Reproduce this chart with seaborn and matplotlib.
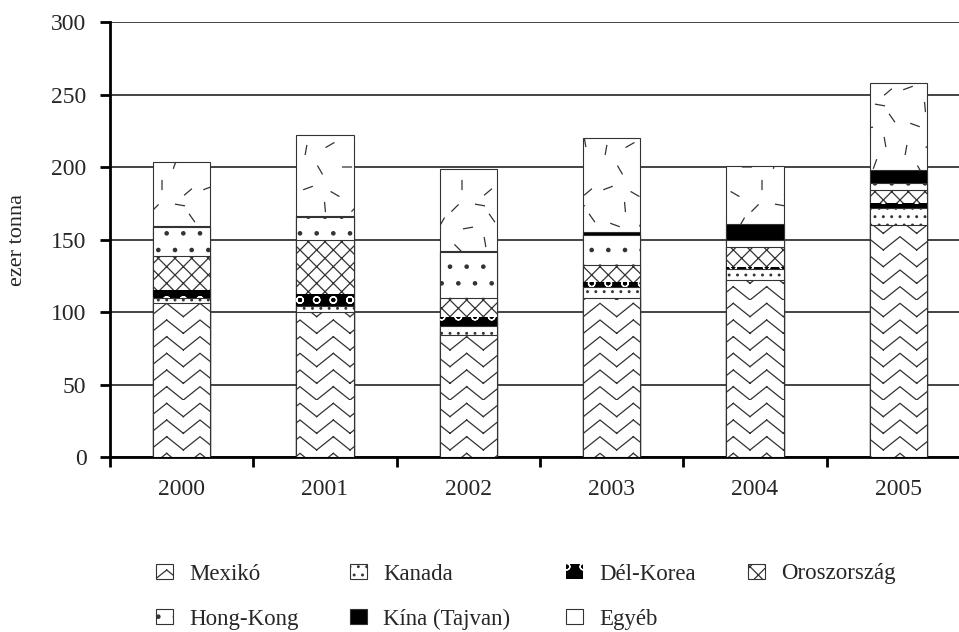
import warnings
import numpy as np
import seaborn as sns
import matplotlib.pyplot as plt
import matplotlib.hatch as mhatch
from matplotlib.path import Path
from matplotlib.patches import Patch

warnings.filterwarnings("ignore")

# --- data (ezer tonna) ---
years = ["2000", "2001", "2002", "2003", "2004", "2005"]
countries = ["Mexikó", "Kanada", "Dél-Korea", "Oroszország",
             "Hong-Kong", "Kína (Tajvan)", "Egyéb"]
mexiko = [106, 100, 84, 110, 122, 160]
kanada = [4, 4.5, 6.5, 7, 8, 12]
del_korea = [5, 8, 6, 4, 1, 3]
oroszorszag = [24, 37, 13.5, 11.5, 14, 9]
hong_kong = [20, 16, 31.5, 21, 5, 5]
kina = [0.5, 0.5, 0.5, 1.5, 10.8, 9]
egyeb = [44, 56, 57, 65, 40, 60]
series = [mexiko, kanada, del_korea, oroszorszag, hong_kong, kina, egyeb]


# --- two extra hatch textures: zigzag ('z') and scattered dashes ('r') ---
# (built from separate segments so the hatch renderer does not fill them)
class ZigzagHatch(mhatch.HatchPatternBase):
    def __init__(self, hatch, density):
        self.rows = 6 if "z" in hatch else 0
        self.steps = 6
        self.num_vertices = self.rows * self.steps * 2

    def set_vertices_and_codes(self, vertices, codes):
        amp = 0.8 / self.rows
        k = 0
        for r in range(self.rows):
            y0 = r / self.rows
            for s in range(self.steps):
                x1, x2 = s / self.steps, (s + 1) / self.steps
                y1 = y0 + (amp if s % 2 == 0 else 0.0)
                y2 = y0 + (0.0 if s % 2 == 0 else amp)
                vertices[k] = (x1, y1)
                vertices[k + 1] = (x2, y2)
                codes[k] = Path.MOVETO
                codes[k + 1] = Path.LINETO
                k += 2


DASH_MARKS = [(0.08, 0.12, 20), (0.35, 0.06, 150), (0.62, 0.15, 90),
              (0.88, 0.08, 40), (0.20, 0.30, 120), (0.47, 0.33, 0),
              (0.75, 0.36, 70), (0.06, 0.50, 80), (0.30, 0.55, 30),
              (0.58, 0.52, 135), (0.85, 0.58, 100), (0.15, 0.75, 160),
              (0.42, 0.78, 60), (0.68, 0.72, 10), (0.92, 0.82, 125),
              (0.25, 0.93, 95), (0.55, 0.92, 45), (0.80, 0.95, 170)]


class DashHatch(mhatch.HatchPatternBase):
    def __init__(self, hatch, density):
        self.on = "r" in hatch
        self.num_vertices = 2 * len(DASH_MARKS) if self.on else 0

    def set_vertices_and_codes(self, vertices, codes):
        half = 0.045
        for i, (cx, cy, ang) in enumerate(DASH_MARKS):
            dx, dy = half * np.cos(np.radians(ang)), half * np.sin(np.radians(ang))
            vertices[2 * i] = (cx - dx, cy - dy)
            vertices[2 * i + 1] = (cx + dx, cy + dy)
            codes[2 * i] = Path.MOVETO
            codes[2 * i + 1] = Path.LINETO


mhatch._hatch_types.extend([ZigzagHatch, DashHatch])

# face, edge, hatch, edge width for each country
styles = {
    "Mexikó": ("white", "#333333", "z", 0.8),
    "Kanada": ("white", "#333333", "..", 0.8),
    "Dél-Korea": ("black", "white", "o", 0.0),
    "Oroszország": ("white", "#333333", "xx", 0.8),
    "Hong-Kong": ("white", "#333333", ".", 0.8),
    "Kína (Tajvan)": ("black", "#333333", "", 0.8),
    "Egyéb": ("white", "#333333", "r", 0.8),
}

sns.set_style("white")
plt.rcParams["font.family"] = ["Liberation Serif", "DejaVu Serif"]
plt.rcParams["hatch.linewidth"] = 0.9

fig = plt.figure(figsize=(9.59, 6.32), dpi=100)
ax = fig.add_axes([110 / 959, 175 / 632, 860 / 959, 434.7 / 632])

# stacked bars: draw cumulative totals from the top layer down
cum = np.cumsum(np.array(series, dtype=float), axis=0)
for i in range(len(countries) - 1, -1, -1):
    face, edge, hatch, lw = styles[countries[i]]
    sns.barplot(x=years, y=cum[i], order=years, color=face, saturation=1,
                width=0.4, edgecolor=edge, linewidth=lw, hatch=hatch,
                errorbar=None, ax=ax, zorder=3)

ax.set_xlim(-0.5, 5.5)
ax.set_ylim(0, 300)
ax.set_yticks(range(0, 301, 50))
ax.yaxis.grid(True, color="#111111", linewidth=1.1)
ax.xaxis.grid(False)
ax.set_axisbelow(True)

for side in ["top", "right"]:
    ax.spines[side].set_visible(False)
for side in ["left", "bottom"]:
    ax.spines[side].set_color("black")
    ax.spines[side].set_linewidth(2)

ax.set_xticks(np.arange(-0.5, 6, 1), minor=True)
ax.tick_params(axis="x", which="major", length=0, pad=16, labelsize=17)
ax.tick_params(axis="x", which="minor", length=7, width=2, color="black",
               direction="out", bottom=True)
ax.tick_params(axis="y", length=7, width=2, color="black", direction="out",
               left=True, pad=10, labelsize=17)

ax.set_xlabel("")
ax.set_ylabel("ezer tonna", fontsize=16)
ax.yaxis.set_label_coords(-0.097, 0.5)

# legend: one entry per slot, two rows
slots = [(156, 574), (350, 574), (566, 574), (748, 574),
         (156, 619), (350, 619), (566, 619)]
for name, (px, py) in zip(countries, slots):
    face, edge, hatch, lw = styles[name]
    handle = Patch(facecolor=face, edgecolor=edge if lw else "white",
                   hatch=hatch, linewidth=0.8 if lw else 0)
    fig.legend(handles=[handle], labels=[name], loc="center left",
               bbox_to_anchor=(px / 959, 1 - py / 632), frameon=False,
               borderpad=0, borderaxespad=0, handlelength=0.75,
               handleheight=0.65, handletextpad=0.7, fontsize=16.5)

fig.savefig("out.png", dpi=100)
